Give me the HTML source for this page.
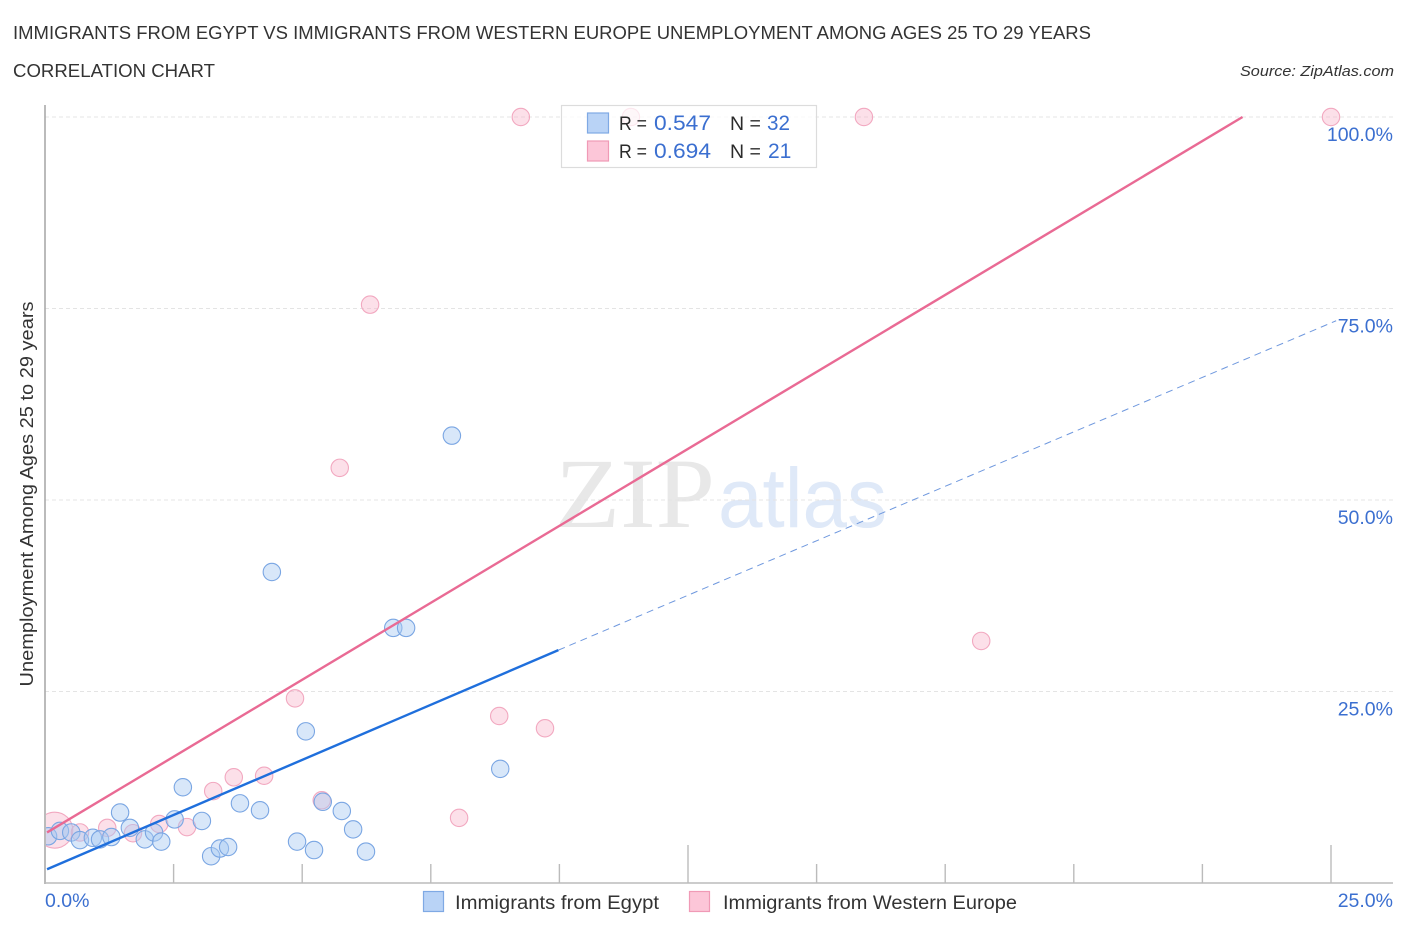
<!DOCTYPE html>
<html lang="en">
<head>
<meta charset="utf-8">
<title>Immigrants from Egypt vs Immigrants from Western Europe Unemployment Correlation Chart</title>
<style>
html,body{margin:0;padding:0;background:#fff;width:1406px;height:930px;overflow:hidden}
svg{display:block}
text{font-family:"Liberation Sans",sans-serif}
</style>
</head>
<body>
<svg id="chart" xmlns="http://www.w3.org/2000/svg" width="1406" height="930" viewBox="0 0 1406 930">
  <defs><clipPath id="plot-clip"><rect x="46" y="100" width="1360" height="783"/></clipPath></defs>
  <rect x="0" y="0" width="1406" height="930" fill="#fff"/>
  <text x="13" y="39" font-size="18.5" fill="#333" textLength="1078" lengthAdjust="spacingAndGlyphs">IMMIGRANTS FROM EGYPT VS IMMIGRANTS FROM WESTERN EUROPE UNEMPLOYMENT AMONG AGES 25 TO 29 YEARS</text>
  <text x="13" y="77" font-size="18.5" fill="#333" textLength="202" lengthAdjust="spacingAndGlyphs">CORRELATION CHART</text>
  <text x="1394" y="76" font-size="15" font-style="italic" fill="#333" text-anchor="end" textLength="154" lengthAdjust="spacingAndGlyphs">Source: ZipAtlas.com</text>
  <text x="555" y="527" font-size="100" fill="#e8e8e8" textLength="160" lengthAdjust="spacingAndGlyphs" style="font-family:'Liberation Serif',serif">ZIP</text>
  <text x="718" y="527" font-size="84" fill="#dfe9f8" textLength="169" lengthAdjust="spacingAndGlyphs">atlas</text>
  <g id="grid"></g>
  <g id="axes"></g>
  <g id="pink-points" clip-path="url(#plot-clip)"></g>
  <g id="blue-points" clip-path="url(#plot-clip)"></g>
  <g id="lines"></g>
  <g id="labels"></g>
  <text transform="translate(33,494) rotate(-90)" font-size="18" fill="#333" text-anchor="middle" textLength="385" lengthAdjust="spacingAndGlyphs">Unemployment Among Ages 25 to 29 years</text>

  <g>
    <rect x="561.5" y="105.5" width="255" height="62" fill="#fff" fill-opacity="0.72" stroke="#dcdcdc" stroke-width="1.2"/>
    <rect x="587.5" y="113" width="21" height="20" fill="#b9d3f6" stroke="#7fa9e4" stroke-width="1.2"/>
    <rect x="587.5" y="141" width="21" height="20" fill="#fcc6d8" stroke="#f09ab6" stroke-width="1.2"/>
    <text x="619" y="130" font-size="19.5" fill="#2b2b2b" textLength="28" lengthAdjust="spacingAndGlyphs">R =</text>
    <text x="654" y="130" font-size="21" fill="#3b6fd0" textLength="57" lengthAdjust="spacingAndGlyphs">0.547</text>
    <text x="730" y="130" font-size="19.5" fill="#2b2b2b">N =</text>
    <text x="767" y="130" font-size="21" fill="#3b6fd0" textLength="23" lengthAdjust="spacingAndGlyphs">32</text>
    <text x="619" y="158" font-size="19.5" fill="#2b2b2b" textLength="28" lengthAdjust="spacingAndGlyphs">R =</text>
    <text x="654" y="158" font-size="21" fill="#3b6fd0" textLength="57" lengthAdjust="spacingAndGlyphs">0.694</text>
    <text x="730" y="158" font-size="19.5" fill="#2b2b2b">N =</text>
    <text x="768" y="158" font-size="21" fill="#3b6fd0">21</text>
  </g>

  <g>
    <g>
      <rect x="423.5" y="891.5" width="20" height="20" fill="#b9d3f6" stroke="#7fa9e4" stroke-width="1.2"/>
      <text x="455" y="909" font-size="19" fill="#333" textLength="204" lengthAdjust="spacingAndGlyphs">Immigrants from Egypt</text>
    </g>
    <g>
      <rect x="689.5" y="891.5" width="20" height="20" fill="#fcc6d8" stroke="#f09ab6" stroke-width="1.2"/>
      <text x="723" y="909" font-size="19" fill="#333" textLength="294" lengthAdjust="spacingAndGlyphs">Immigrants from Western Europe</text>
    </g>
  </g>
</svg>
<script>
// Data (percent units)
var egyptX = [0.06,0.29,0.51,0.68,0.93,1.07,1.29,1.46,1.65,1.94,2.12,2.26,2.52,2.68,3.05,3.23,3.40,3.56,3.79,4.18,4.41,4.90,5.07,5.23,5.40,5.77,5.99,6.24,6.77,7.02,7.91,8.85];
var egyptY = [6.1,6.8,6.6,5.6,5.9,5.7,6.0,9.2,7.2,5.7,6.6,5.4,8.3,12.5,8.1,3.5,4.5,4.7,10.4,9.5,40.6,5.4,19.8,4.3,10.6,9.4,7.0,4.1,33.3,33.3,58.4,14.9];
var europeX = [0.19,0.68,1.21,1.71,2.22,2.76,3.27,3.67,4.26,4.86,5.38,5.73,6.32,8.05,8.83,9.25,9.72,11.39,15.92,18.20,25.0];
var europeY = [6.9,6.6,7.2,6.5,7.7,7.3,12.0,13.8,14.0,24.1,10.8,54.2,75.5,8.5,21.8,100,20.2,100,100,31.6,100];
var europeWeight = [3,1,1,1,1,1,1,1,1,1,1,1,1,1,1,1,1,1,1,1,1];
var egyptLineX = [0.04,9.98];
var egyptLineY = [1.8,30.4];
var egyptProjectionX = [9.98,25.1];
var egyptProjectionY = [30.4,73.4];
var europeLineX = [0.04,23.28];
var europeLineY = [6.6,100];
var xTickValues = [0,2.5,5,7.5,10,12.5,15,17.5,20,22.5,25];
var xMajorTicks = [12.5,25];
var yTickValues = [25,50,75,100];
var yTickLabels = ["25.0%","50.0%","75.0%","100.0%"];
var xEndLabels = ["0.0%","25.0%"];

var NS = "http://www.w3.org/2000/svg";
function xScale(v){ return 45 + v * 1286 / 25; }
function yScale(v){ return 883 - v * 766 / 100; }
function make(tag, attrs, parent){
  var el = document.createElementNS(NS, tag);
  for (var k in attrs) el.setAttribute(k, attrs[k]);
  parent.appendChild(el);
  return el;
}
var grid = document.getElementById("grid");
var axes = document.getElementById("axes");
var labels = document.getElementById("labels");
var lines = document.getElementById("lines");

yTickValues.forEach(function(v, i){
  var g = make("line", {x1:45, x2:1393, y1:yScale(v), y2:yScale(v), stroke:"#e4e4e4", "stroke-width":1, "stroke-dasharray":"4 3"}, grid);
  
  
  var t = make("text", {x:1393, y:yScale(v) + 24, "font-size":19.5, fill:"#3b6fd0", "text-anchor":"end"}, labels);
  t.textContent = yTickLabels[i];
  
  
});

var yAxis = make("line", {x1:45, x2:45, y1:105, y2:884, stroke:"#aaa", "stroke-width":1.6}, axes);


var xAxis = make("line", {x1:44, x2:1393, y1:883, y2:883, stroke:"#bbb", "stroke-width":1.6}, axes);


xTickValues.forEach(function(v){
  if (v === 0) return;
  var major = xMajorTicks.indexOf(v) >= 0;
  var tk = make("line", {x1:xScale(v), x2:xScale(v), y1:major ? 845 : 864, y2:883, stroke:"#bbb", "stroke-width":1.4}, axes);
  
  
});

var x0 = make("text", {x:xScale(0), y:907, "font-size":19.5, fill:"#3b6fd0"}, labels);
x0.textContent = xEndLabels[0];


var x1 = make("text", {x:1393, y:907, "font-size":19.5, fill:"#3b6fd0", "text-anchor":"end"}, labels);
x1.textContent = xEndLabels[1];



var pinkG = document.getElementById("pink-points");
europeX.forEach(function(v, i){
  var c = make("circle", {cx:xScale(v), cy:yScale(europeY[i]), r:europeWeight[i] > 1 ? 18 : 8.7, fill:"#f9b4cb", "fill-opacity":0.42, stroke:"#f2a8c0", "stroke-width":1.1}, pinkG);
  
  
});
var blueG = document.getElementById("blue-points");
egyptX.forEach(function(v, i){
  var c = make("circle", {cx:xScale(v), cy:yScale(egyptY[i]), r:8.7, fill:"#a9c9f2", "fill-opacity":0.45, stroke:"#7aa6e3", "stroke-width":1.1}, blueG);
  
  
});

var pr = make("line", {x1:xScale(egyptProjectionX[0]), y1:yScale(egyptProjectionY[0]), x2:xScale(egyptProjectionX[1]), y2:yScale(egyptProjectionY[1]), stroke:"#6f98de", "stroke-width":1, "stroke-dasharray":"7 5"}, lines);


var eu = make("line", {x1:xScale(europeLineX[0]), y1:yScale(europeLineY[0]), x2:xScale(europeLineX[1]), y2:yScale(europeLineY[1]), stroke:"#e96a94", "stroke-width":2.4}, lines);


var eg = make("line", {x1:xScale(egyptLineX[0]), y1:yScale(egyptLineY[0]), x2:xScale(egyptLineX[1]), y2:yScale(egyptLineY[1]), stroke:"#1f6fdc", "stroke-width":2.4}, lines);


</script>
</body>
</html>
